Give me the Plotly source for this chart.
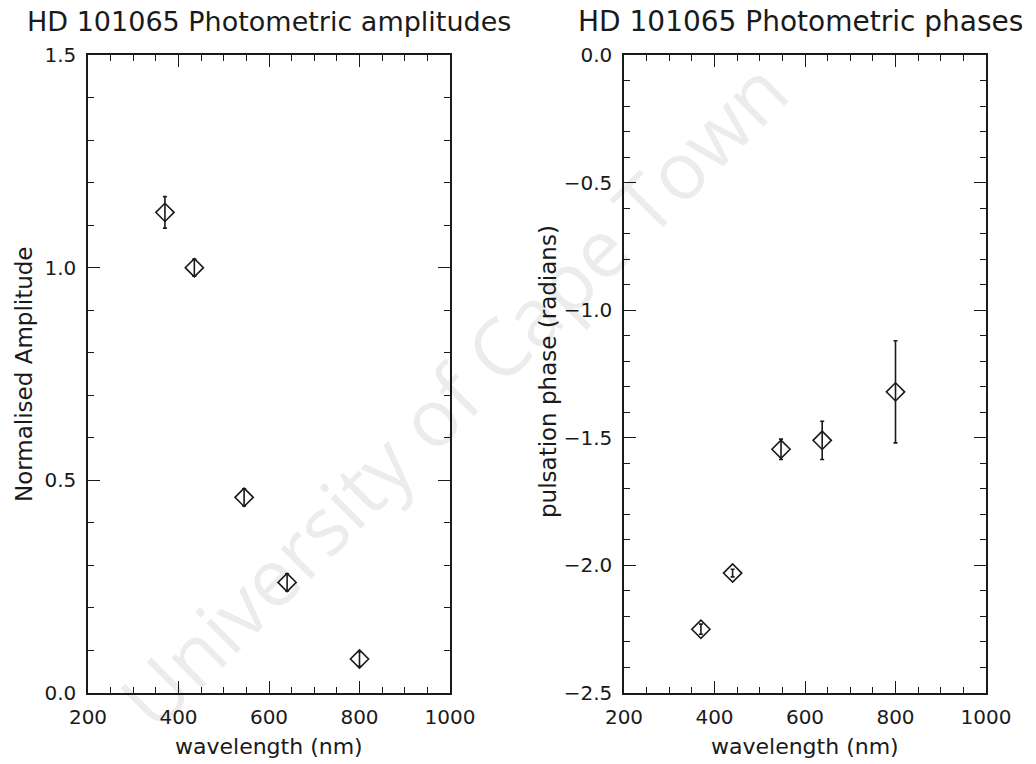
import plotly.graph_objects as go

# ---- data ----
amp_wavelength = [370, 435, 545, 640, 800]
amp_value = [1.13, 1.00, 0.46, 0.26, 0.08]
amp_error = [0.037, 0.02, 0.02, 0.02, 0.017]

phase_wavelength = [370, 440, 547, 638, 800]
phase_value = [-2.25, -2.03, -1.545, -1.51, -1.32]
phase_error = [0.02, 0.015, 0.04, 0.075, 0.20]

x_ticks = [200, 400, 600, 800, 1000]

W, H = 1036, 764
FONT = "DejaVu Sans"
INK = "#1a1a1a"

fig = go.Figure()

marker = dict(symbol="diamond-open", size=14, color=INK, line=dict(width=1.6, color=INK))

fig.add_trace(go.Scatter(
    x=amp_wavelength, y=amp_value, mode="markers", marker=marker,
    error_y=dict(type="data", array=amp_error, color=INK, thickness=1.6, width=2),
    xaxis="x", yaxis="y", showlegend=False))

fig.add_trace(go.Scatter(
    x=phase_wavelength, y=phase_value, mode="markers", marker=marker,
    error_y=dict(type="data", array=phase_error, color=INK, thickness=1.6, width=2),
    xaxis="x2", yaxis="y2", showlegend=False))

def px_x(p):
    return p / W

def px_y(p):
    return 1 - p / H

ydom = [px_y(693), px_y(55)]

axis_common = dict(
    showgrid=False, zeroline=False, showline=True, linecolor=INK, linewidth=1.5,
    mirror="allticks", ticks="inside", ticklen=12, tickwidth=1.3, tickcolor=INK,
    tickfont=dict(family=FONT, size=20, color=INK), automargin=False,
)

xaxis_common = dict(axis_common, range=[200, 1000], tickvals=x_ticks,
                    minor=dict(dtick=50, ticks="inside", ticklen=6, tickwidth=1.2, tickcolor=INK),
                    ticklabelstandoff=5)

fig.update_layout(
    width=W, height=H,
    margin=dict(l=0, r=0, t=0, b=0, autoexpand=False),
    paper_bgcolor="white", plot_bgcolor="white",
    xaxis=dict(xaxis_common, domain=[px_x(88), px_x(450)], anchor="y"),
    yaxis=dict(axis_common, domain=ydom, range=[0, 1.5], dtick=0.5, tick0=0, tickformat=".1f",
               minor=dict(dtick=0.1, ticks="inside", ticklen=6, tickwidth=1.2, tickcolor=INK),
               anchor="x", ticklabelstandoff=6),
    xaxis2=dict(xaxis_common, domain=[px_x(624), px_x(986)], anchor="y2"),
    yaxis2=dict(axis_common, domain=ydom, range=[-2.5, 0], dtick=0.5, tick0=0, tickformat=".1f",
                minor=dict(dtick=0.1, ticks="inside", ticklen=6, tickwidth=1.2, tickcolor=INK),
                anchor="x2", ticklabelstandoff=6),
)

def ann(text, x, y, size, angle=0, family=FONT, color=INK):
    return dict(text=text, x=px_x(x), y=px_y(y), xref="paper", yref="paper",
                xanchor="center", yanchor="middle", showarrow=False, textangle=angle,
                font=dict(family=family, size=size, color=color))

annotations = [
    # watermark of the scanned page
    ann("University of Cape Town", 452, 394, 80, angle=-45, family="Open Sans",
        color="rgba(0,0,0,0.075)"),
    ann("HD 101065 Photometric amplitudes", 269, 22, 27),
    ann("HD 101065 Photometric phases", 800, 22, 28),
    ann("wavelength (nm)", 269, 746, 22),
    ann("wavelength (nm)", 805, 746, 22),
    ann("Normalised Amplitude", 24, 374, 23, angle=-90),
    ann("pulsation phase (radians)", 548, 372, 23, angle=-90),
]
fig.update_layout(annotations=annotations)

fig.write_html("out.html")
